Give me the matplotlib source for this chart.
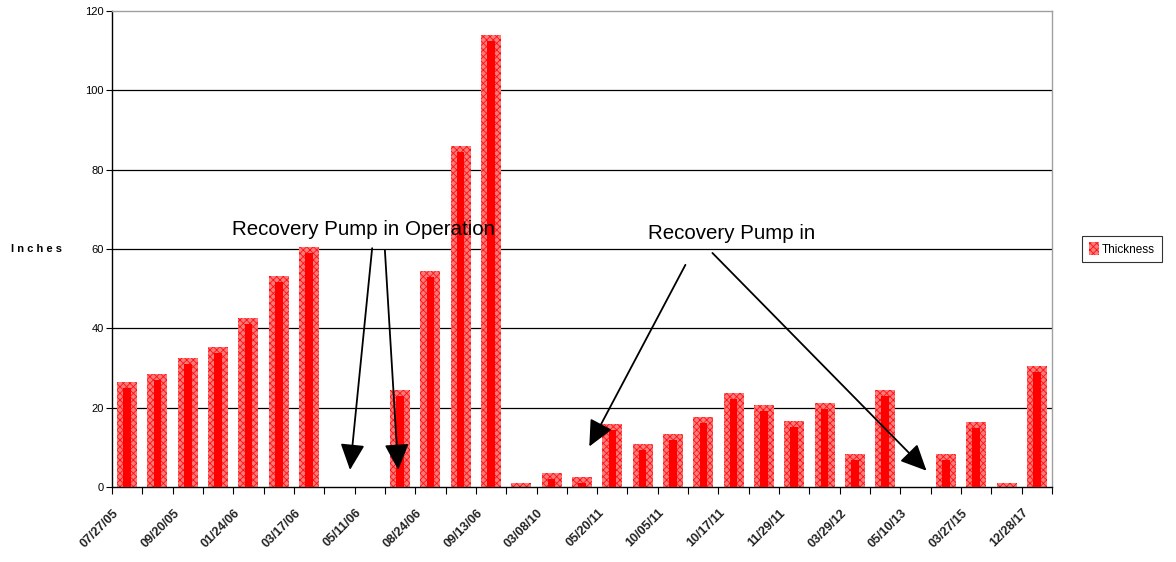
import matplotlib
matplotlib.use("Agg")
import matplotlib.pyplot as plt
import numpy as np

plt.rcParams["font.family"] = ["Liberation Sans", "DejaVu Sans"]

# product thickness per sampling event (None = not measured)
thickness = [26.5, 28.5, 32.5, 35.3, 42.6, 53.2, 60.5, None, None, 24.5,
             54.4, 86.0, 114.0, 1.1, 3.5, 2.5, 15.9, 10.8, 13.4, 17.6,
             23.7, 20.7, 16.6, 21.2, 8.3, 24.4, None, 8.3, 16.4, 1.0, 30.5]
date_labels = ["07/27/05", "09/20/05", "01/24/06", "03/17/06", "05/11/06",
               "08/24/06", "09/13/06", "03/08/10", "05/20/11", "10/05/11",
               "10/17/11", "11/29/11", "03/29/12", "05/10/13", "03/27/15",
               "12/28/17"]
y_ticks = [0, 20, 40, 60, 80, 100, 120]

n = len(thickness)
x = np.arange(n)
vals = np.array([v if v is not None else 0 for v in thickness], dtype=float)
has = np.array([v is not None for v in thickness])

fig = plt.figure(figsize=(11.76, 5.62), dpi=100)
ax = fig.add_axes([0.0952, 0.1335, 0.7994, 0.8469])

for y in y_ticks[1:-1]:
    ax.axhline(y, color="black", lw=0.9, zorder=1)

plt.rcParams["hatch.linewidth"] = 0.6
outer = ax.bar(x[has], vals[has], width=0.66, color="#ff7a7a", edgecolor="#ff1010",
               hatch="xxxxx", linewidth=0, zorder=2, label="Thickness")
inset = 1.5
ax.bar(x[has], np.clip(vals[has] - inset, 0, None), width=0.25, color="#ff0000",
       linewidth=0, zorder=3)

ax.set_xlim(-0.5, n - 0.5)
ax.set_ylim(0, 120)
ax.set_yticks(y_ticks)
ax.set_yticklabels([str(t) for t in y_ticks], fontsize=8)
ax.set_xticks(np.arange(n + 1) - 0.5)
ax.set_xticklabels([])
ax.tick_params(axis="x", direction="out", length=5, width=0.8)
ax.tick_params(axis="y", direction="out", length=4, width=0.8, pad=2)

# date labels under every second bar
for i, lab in enumerate(date_labels):
    ax.text(2 * i - 0.2, -5, lab, rotation=45, ha="right", va="top",
            fontsize=9, fontweight="bold", color="#222222")

ax.spines["left"].set_color("black")
ax.spines["bottom"].set_color("black")
ax.spines["top"].set_color("#a0a0a0")
ax.spines["right"].set_color("#a0a0a0")
for s in ax.spines.values():
    s.set_linewidth(1.0)

fig.text(0.031, 0.557, "I n c h e s", fontsize=8, fontweight="bold",
         ha="center", va="center")

head = dict(arrowstyle="-|>,head_length=1.6,head_width=0.75", color="black",
            lw=1.3, shrinkA=0, shrinkB=0)
ax.text(7.78, 65, "Recovery Pump in Operation", fontsize=14.8, ha="center", va="center")
ax.annotate("", xy=(7.35, 4.3), xytext=(8.08, 60.2), arrowprops=head)
ax.annotate("", xy=(8.94, 4.3), xytext=(8.5, 59.7), arrowprops=head)
ax.text(19.93, 64, "Recovery Pump in", fontsize=14.8, ha="center", va="center")
ax.annotate("", xy=(15.24, 10.2), xytext=(18.41, 56), arrowprops=head)
ax.annotate("", xy=(26.36, 4.1), xytext=(19.3, 59), arrowprops=head)

leg = fig.legend(handles=[outer], loc="center", bbox_to_anchor=(0.954, 0.557),
                 fontsize=8.5, frameon=True, fancybox=False, edgecolor="black",
                 handlelength=0.9, handleheight=1.3, handletextpad=0.25,
                 borderpad=0.55, borderaxespad=0)
leg.get_frame().set_linewidth(0.8)

plt.savefig("out.png", dpi=100)
